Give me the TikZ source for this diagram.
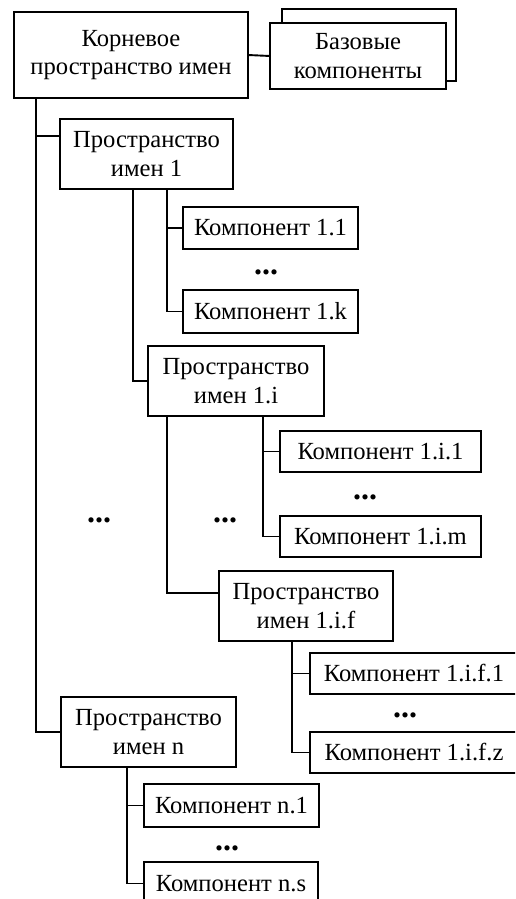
\documentclass[tikz,border=0pt]{standalone}
\usepackage{fontspec}
\setmainfont{Liberation Serif}
\newfontfamily\labelfont{Liberation Serif}
\begin{document}
\begin{tikzpicture}[x=1pt, y=-1pt,
    box/.style={draw, line width=1.9pt, fill=white, align=center, inner sep=0pt, outer sep=0pt,
        font=\labelfont\fontsize{24.6}{28.8}\selectfont},
    ns/.style={box, minimum width=174pt, minimum height=70pt},
    comp/.style={box, minimum width=175pt, minimum height=42pt},
    dots/.style={inner sep=0pt, font=\labelfont\fontsize{32}{32}\selectfont\bfseries},
    link/.style={line width=1.9pt}]

    % Page frame (lower and right boxes run off the edge)
    \useasboundingbox (0,0) rectangle (515,899);
    \clip (0,0) rectangle (515,899);

    % Root namespace and base components (stacked pair)
    \node[box, minimum width=234pt, minimum height=86pt] (root) at (131,55) {Корневое\\пространство имен};
    \node[box, minimum width=174pt, minimum height=72pt] (baseback) at (369,45) {};
    \node[box, minimum width=176pt, minimum height=66pt] (base) at (358,56) {Базовые\\компоненты};
    \draw[link] (root.east) -- (base.west);

    % Namespace 1 with its components
    \node[ns, minimum width=173pt] (ns1) at (146.5,154) {Пространство\\имен 1};
    \node[comp] (c11) at (270.5,228) {Компонент 1.1};
    \node[comp, minimum height=43pt] (c1k) at (270.5,311.5) {Компонент 1.k};
    \node[dots] (d1) at (266,272.5) {...};

    % Nested namespace 1.i
    \node[ns, minimum width=176pt] (ns1i) at (236,381) {Пространство\\имен 1.i};
    \node[comp, minimum width=201pt, minimum height=41pt] (c1i1) at (380.5,451.5) {Компонент 1.i.1};
    \node[comp, minimum width=201pt, minimum height=41pt] (c1im) at (380.5,536.5) {Компонент 1.i.m};
    \node[dots] (d1i) at (365,497) {...};

    % Nested namespace 1.i.f
    \node[ns] (ns1if) at (306,606) {Пространство\\имен 1.i.f};
    \node[comp, minimum width=208pt, minimum height=41pt] (c1if1) at (414,673.5) {Компонент 1.i.f.1};
    \node[comp, minimum width=208pt, minimum height=41pt] (c1ifz) at (414,752.5) {Компонент 1.i.f.z};
    \node[dots] (d1if) at (405,715) {...};

    % Gaps between namespaces
    \node[dots] (droot) at (99,520) {...};
    \node[dots] (dns1) at (225,520) {...};

    % Last namespace n
    \node[ns, minimum width=175pt] (nsn) at (148.5,732) {Пространство\\имен n};
    \node[comp, minimum height=43pt] (cn1) at (231.5,805.5) {Компонент n.1};
    \node[comp, minimum width=174pt, minimum height=43pt] (cns) at (231,883.5) {Компонент n.s};
    \node[dots] (dn) at (227,848) {...};

    % Tree lines
    \coordinate (trunk) at ([xshift=22pt]root.south west);
    \draw[link] (trunk) |- ([yshift=18pt]ns1.west);
    \draw[link] (trunk) |- (nsn.west);

    \foreach \c in {c11,c1k}
        \draw[link] ([xshift=107pt]ns1.south west) |- (\c.west);
    \draw[link] ([xshift=73pt]ns1.south west) |- (ns1i.west);

    \foreach \c in {c1i1,c1im}
        \draw[link] ([xshift=115pt]ns1i.south west) |- (\c.west);
    \draw[link] ([xshift=19pt]ns1i.south west) |- ([yshift=13pt]ns1if.west);

    \foreach \c in {c1if1,c1ifz}
        \draw[link] ([xshift=73pt]ns1if.south west) |- (\c.west);

    \foreach \c in {cn1,cns}
        \draw[link] ([xshift=66pt]nsn.south west) |- (\c.west);
\end{tikzpicture}
\end{document}
